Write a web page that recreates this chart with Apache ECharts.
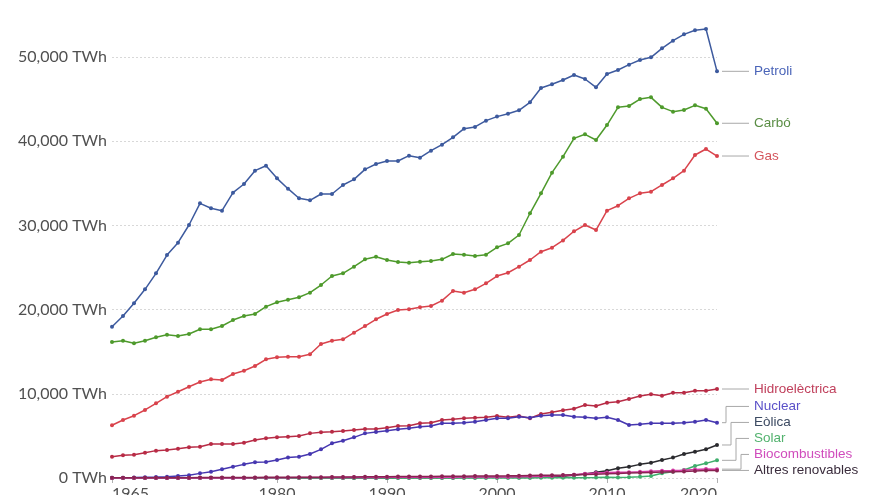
<!DOCTYPE html>
<html>
<head>
<meta charset="utf-8">
<script src="https://cdn.jsdelivr.net/npm/echarts@6/dist/echarts.min.js"></script>
<style>
html,body{margin:0;padding:0;background:#fff;}
#chart{width:880px;height:495px;}
</style>
</head>
<body>
<div id="chart"></div>
<script>
const years = [1965,1966,1967,1968,1969,1970,1971,1972,1973,1974,1975,1976,1977,1978,1979,1980,1981,1982,1983,1984,1985,1986,1987,1988,1989,1990,1991,1992,1993,1994,1995,1996,1997,1998,1999,2000,2001,2002,2003,2004,2005,2006,2007,2008,2009,2010,2011,2012,2013,2014,2015,2016,2017,2018,2019,2020];
const xTickYears = [1965,1980,1990,2000,2010,2020];

const petroli = [17970,19240,20750,22410,24310,26480,27950,30050,32620,32030,31750,33890,34920,36500,37090,35590,34360,33230,32980,33730,33730,34800,35470,36660,37290,37650,37650,38280,38040,38870,39590,40460,41490,41690,42440,42920,43270,43670,44620,46320,46760,47270,47860,47390,46400,47980,48460,49090,49640,49960,51030,51940,52690,53170,53330,48300];
const carbo = [16150,16310,16000,16310,16710,17020,16860,17100,17660,17660,18050,18760,19240,19480,20350,20870,21180,21460,22010,22920,23990,24310,25100,25970,26280,25890,25650,25570,25690,25770,25970,26600,26520,26370,26520,27400,27870,28860,31440,33810,36260,38160,40340,40820,40140,41920,44020,44180,45010,45210,44020,43510,43700,44260,43860,42130];
const gas = [6260,6890,7400,8080,8870,9660,10250,10840,11400,11720,11640,12350,12740,13300,14100,14330,14410,14410,14690,15910,16310,16470,17260,18050,18850,19480,19950,20030,20270,20430,21060,22210,22010,22410,23120,23990,24380,25100,25890,26880,27350,28220,29300,30050,29450,31750,32340,33210,33810,34000,34800,35590,36500,38360,39070,38240];
const hidro = [2530,2690,2770,3010,3250,3330,3480,3640,3720,4040,4040,4040,4190,4510,4710,4830,4910,4990,5300,5430,5500,5580,5700,5820,5820,5980,6180,6210,6500,6570,6890,6970,7090,7160,7210,7360,7210,7360,7090,7600,7800,8040,8220,8670,8550,8940,9060,9380,9740,9940,9770,10130,10130,10370,10370,10570];
const nuclear = [20,40,60,90,110,150,240,320,550,750,1030,1340,1620,1860,1900,2140,2440,2530,2850,3400,4120,4430,4830,5300,5460,5620,5780,5900,6100,6180,6500,6500,6570,6690,6890,7090,7090,7280,7160,7400,7480,7480,7280,7210,7090,7210,6890,6290,6370,6500,6500,6500,6570,6690,6890,6570];
const eolica = [0,0,0,0,0,0,0,0,0,0,0,0,0,0,0,0,0,0,0,0,2,3,5,7,10,12,15,18,22,28,35,42,52,65,85,100,110,125,140,155,170,200,320,480,670,870,1150,1340,1620,1820,2140,2420,2850,3130,3410,3920];
const solar = [0,0,0,0,0,0,0,0,0,0,0,0,0,0,0,0,0,0,0,0,0,0,0,0,0,0,0,0,0,0,0,0,0,0,0,5,7,10,14,18,22,26,30,40,60,90,70,100,150,240,560,750,950,1420,1740,2100];
const biocomb = [0,0,0,0,0,0,0,0,0,0,5,8,12,18,25,30,35,45,55,60,65,70,75,72,70,75,80,85,85,90,95,100,105,105,110,110,120,140,170,200,240,300,400,510,580,650,670,680,740,810,850,880,920,1000,1080,1050];
const altres = [20,22,25,28,30,35,38,40,45,50,55,60,65,70,75,80,85,90,95,100,110,120,130,140,150,160,170,175,180,190,200,210,220,230,240,250,260,280,300,320,340,360,390,420,450,500,540,580,620,660,700,740,780,830,880,900];

const seriesNames = ['Petroli','Carbó','Gas','Hidroelèctrica','Nuclear','Eòlica','Solar','Biocombustibles','Altres renovables'];
const seriesValues = [petroli,carbo,gas,hidro,nuclear,eolica,solar,biocomb,altres];
const lineColors = ['#3d5a9e','#4e9a2c','#d9434c','#b82b45','#4637b0','#2a2a2e','#3fae6c','#d43aa6','#8a2352'];
const labelColors = ['#4a64b8','#5a8d44','#d4545c','#c0405c','#5a50c8','#3c4a62','#52b26e','#d04cbc','#3a2c3c'];

const chart = echarts.init(document.getElementById('chart'));

const series = seriesNames.map((n,i)=>({
  name:n,
  type:'line',
  data: years.map((y,k)=>[y, seriesValues[i][k]]),
  symbol:'circle',
  symbolSize:4,
  showAllSymbol:true,
  clip:false,
  lineStyle:{color:lineColors[i], width:1.5},
  itemStyle:{color:lineColors[i]},
  emphasis:{disabled:true},
  z: 2
}));

chart.setOption({
  animation:false,
  backgroundColor:'#ffffff',
  grid:{left:112, right:163, top:57, bottom:17, containLabel:false, outerBoundsMode:'none'},
  xAxis:{
    type:'value', min:1965, max:2020,
    axisLine:{show:false},
    splitLine:{show:false},
    axisTick:{show:true, customValues:xTickYears, length:5, lineStyle:{color:'#b0b0b0'}},
    axisLabel:{
      customValues:xTickYears,
      formatter:v=>String(v),
      fontFamily:'Lato', fontSize:16, color:'#505050', margin:8,
      alignMinLabel:'left', alignMaxLabel:'right'
    }
  },
  yAxis:{
    type:'value', min:0, max:50000, interval:10000,
    axisLine:{show:false},
    axisTick:{show:false},
    splitLine:{show:true, lineStyle:{color:'#d8d8d8', type:[2,2], width:1}},
    axisLabel:{
      formatter:v=>v.toLocaleString('en-US')+' TWh',
      fontFamily:'Lato', fontSize:16, color:'#505050', margin:5
    }
  },
  series: series
});

// End labels with connector lines, positions from the chart's own scale
const ends = seriesNames.map((n,i)=>{
  const v = seriesValues[i][seriesValues[i].length-1];
  const p = chart.convertToPixel({xAxisIndex:0,yAxisIndex:0},[years[years.length-1], v]);
  return {i, n, px:p[0], py:p[1]};
});
ends.sort((a,b)=>a.py-b.py);
const gap = 16;
for (let k=ends.length-1;k>=0;k--){
  ends[k].ly = (k===ends.length-1) ? ends[k].py : Math.min(ends[k].py, ends[k+1].ly-gap);
}
const labelX = 754;
const lineEnd = 749;
const graphics = [];
let disp = 0;
ends.forEach(e=>{
  let pts;
  if (Math.abs(e.ly-e.py) < 1.5){
    pts = [[e.px+5, e.py],[lineEnd, e.py]];
  } else {
    const ex = e.px + 9 + 5*disp;
    disp++;
    pts = [[e.px+5, e.py],[ex, e.py],[ex, e.ly],[lineEnd, e.ly]];
  }
  graphics.push({type:'polyline', shape:{points:pts}, style:{stroke:'#a8a8a8', lineWidth:1, fill:null}, silent:true, z:10});
  graphics.push({type:'text', x:labelX, y:e.ly, style:{text:e.n, fill:labelColors[e.i], font:'13.5px "Liberation Sans", Arial, sans-serif', verticalAlign:'middle', textVerticalAlign:'middle', align:'left'}, silent:true, z:10});
});
chart.setOption({graphic:graphics});
</script>
</body>
</html>
